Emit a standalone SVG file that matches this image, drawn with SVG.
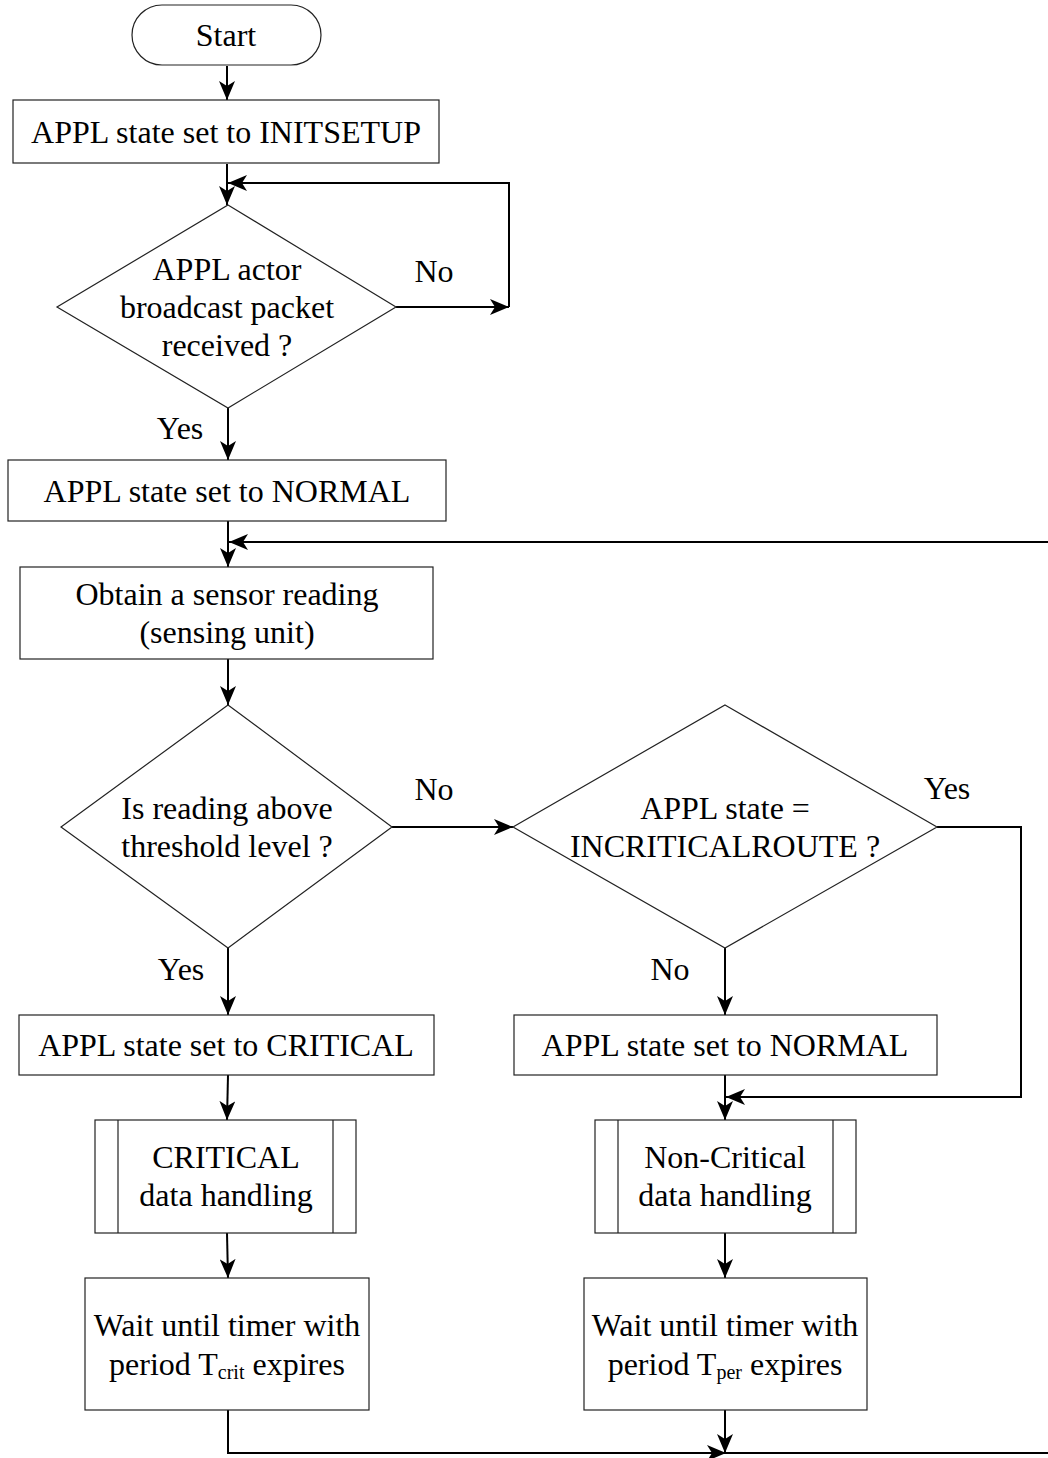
<svg xmlns="http://www.w3.org/2000/svg" width="1048" height="1458" viewBox="0 0 1048 1458">
<style>
.n{fill:#fff;stroke:#222;stroke-width:1.2}
.t{font-family:"Liberation Serif","Times New Roman",serif;font-size:32px;fill:#000;text-anchor:middle}
.c{fill:none;stroke:#000;stroke-width:2}
.s{font-size:20px}
</style>
<defs>
<marker id="ah" markerUnits="userSpaceOnUse" markerWidth="20" markerHeight="16" refX="19" refY="8" orient="auto">
<path d="M0,0 L19,8 L0,16 L5,8 Z" fill="#000"/>
</marker>
</defs>
<rect width="1048" height="1458" fill="#fff"/>
<g id="connectors">
<path class="c" d="M227,66 V100" marker-end="url(#ah)"/>
<path class="c" d="M227,164 V205" marker-end="url(#ah)"/>
<path class="c" d="M396,307 H509" marker-end="url(#ah)"/>
<path class="c" d="M509,307 V183 H228" marker-end="url(#ah)"/>
<path class="c" d="M228,408 V460" marker-end="url(#ah)"/>
<path class="c" d="M228,521 V567" marker-end="url(#ah)"/>
<path class="c" d="M228,659 V705" marker-end="url(#ah)"/>
<path class="c" d="M392,827 H513" marker-end="url(#ah)"/>
<path class="c" d="M937,827 H1021 V1097 H726" marker-end="url(#ah)"/>
<path class="c" d="M228,948 V1015" marker-end="url(#ah)"/>
<path class="c" d="M725,948 V1015" marker-end="url(#ah)"/>
<path class="c" d="M228,1075 L227,1120" marker-end="url(#ah)"/>
<path class="c" d="M725,1075 V1120" marker-end="url(#ah)"/>
<path class="c" d="M227,1233 L228,1278" marker-end="url(#ah)"/>
<path class="c" d="M725,1233 V1278" marker-end="url(#ah)"/>
<path class="c" d="M228,1410 V1453 H726" marker-end="url(#ah)"/>
<path class="c" d="M725,1410 V1453" marker-end="url(#ah)"/>
<path class="c" d="M725,1453 H1051 V542 H229" marker-end="url(#ah)"/>
</g>
<g id="labels">
<text class="t" x="434" y="282">No</text>
<text class="t" x="180" y="439">Yes</text>
<text class="t" x="434" y="800">No</text>
<text class="t" x="947" y="799">Yes</text>
<text class="t" x="181" y="980">Yes</text>
<text class="t" x="670" y="980">No</text>
</g>
<g id="start">
<rect class="n" x="132" y="5" width="189" height="60" rx="30" ry="30"/>
<text class="t" x="226" y="46">Start</text>
</g>
<g id="initsetup">
<rect class="n" x="13" y="100" width="426" height="63"/>
<text class="t" x="226" y="143">APPL state set to INITSETUP</text>
</g>
<g id="broadcast">
<polygon class="n" points="228,205 396,307 228,408 57,307"/>
<text class="t" x="227" y="280">APPL actor</text>
<text class="t" x="227" y="318">broadcast packet</text>
<text class="t" x="227" y="356">received ?</text>
</g>
<g id="normal1">
<rect class="n" x="8" y="460" width="438" height="61"/>
<text class="t" x="227" y="502">APPL state set to NORMAL</text>
</g>
<g id="obtain">
<rect class="n" x="20" y="567" width="413" height="92"/>
<text class="t" x="227" y="605">Obtain a sensor reading</text>
<text class="t" x="227" y="643">(sensing unit)</text>
</g>
<g id="threshold">
<polygon class="n" points="228,705 392,827 228,948 61,827"/>
<text class="t" x="227" y="819">Is reading above</text>
<text class="t" x="227" y="857">threshold level ?</text>
</g>
<g id="incritical">
<polygon class="n" points="725,705 937,827 725,948 513,827"/>
<text class="t" x="725" y="819">APPL state =</text>
<text class="t" x="725" y="857">INCRITICALROUTE ?</text>
</g>
<g id="critical">
<rect class="n" x="19" y="1015" width="415" height="60"/>
<text class="t" x="226" y="1056">APPL state set to CRITICAL</text>
</g>
<g id="normal2">
<rect class="n" x="514" y="1015" width="423" height="60"/>
<text class="t" x="725" y="1056">APPL state set to NORMAL</text>
</g>
<g id="crit-handling">
<rect class="n" x="95" y="1120" width="261" height="113"/>
<path class="n" d="M118,1120 V1233 M333,1120 V1233"/>
<text class="t" x="226" y="1168">CRITICAL</text>
<text class="t" x="226" y="1206">data handling</text>
</g>
<g id="noncrit-handling">
<rect class="n" x="595" y="1120" width="261" height="113"/>
<path class="n" d="M618,1120 V1233 M833,1120 V1233"/>
<text class="t" x="725" y="1168">Non-Critical</text>
<text class="t" x="725" y="1206">data handling</text>
</g>
<g id="wait-crit">
<rect class="n" x="85" y="1278" width="284" height="132"/>
<text class="t" x="227" y="1336">Wait until timer with</text>
<text class="t" x="227" y="1375">period T<tspan class="s" dy="4">crit</tspan><tspan dy="-4"> expires</tspan></text>
</g>
<g id="wait-per">
<rect class="n" x="584" y="1278" width="283" height="132"/>
<text class="t" x="725" y="1336">Wait until timer with</text>
<text class="t" x="725" y="1375">period T<tspan class="s" dy="4">per</tspan><tspan dy="-4"> expires</tspan></text>
</g>
</svg>
